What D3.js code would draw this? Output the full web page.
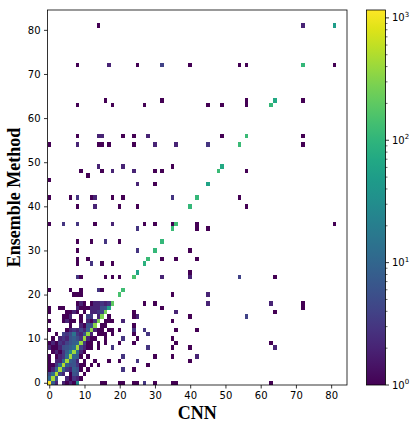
<!DOCTYPE html>
<html>
<head>
<meta charset="utf-8">
<script src="https://cdn.jsdelivr.net/npm/d3@7"></script>
<style>
  body { margin: 0; background: #fff; }
  text { font-family: "DejaVu Sans", sans-serif; }
</style>
</head>
<body>
<svg id="chart" width="417" height="430"></svg>
<script>
// bin edges of both axes (integer bins centred on 0..84)
const binRange = [-0.5, 84.5];
const xTicks = [0, 10, 20, 30, 40, 50, 60, 70, 80];
const yTicks = [0, 10, 20, 30, 40, 50, 60, 70, 80];
const cbarTicks = [1, 10, 100, 1000];
const maxCount = 1160;

// dense corner: denseRows[ens][cnn] for bins 0..18 (0 = empty)
const denseRows = [
  [1160, 8, 2, 0, 2, 1, 2, 1, 30, 0, 0, 0, 0, 0, 0, 1, 1, 0, 0],
  [10, 450, 6, 0, 0, 2, 1, 3, 2, 1, 0, 0, 0, 0, 0, 0, 0, 0, 0],
  [5, 12, 500, 4, 2, 0, 1, 6, 5, 0, 1, 0, 0, 0, 0, 0, 0, 0, 0],
  [1, 2, 10, 450, 8, 3, 2, 8, 6, 1, 0, 1, 0, 0, 0, 0, 0, 0, 0],
  [1, 1, 3, 12, 500, 8, 5, 6, 3, 1, 1, 0, 1, 0, 1, 0, 0, 0, 0],
  [1, 0, 2, 2, 10, 450, 8, 6, 2, 0, 1, 0, 0, 1, 0, 0, 0, 1, 0],
  [1, 0, 1, 2, 3, 12, 420, 10, 8, 1, 0, 1, 0, 0, 0, 0, 0, 0, 0],
  [0, 1, 2, 1, 3, 8, 25, 400, 12, 2, 1, 0, 0, 0, 0, 0, 0, 0, 0],
  [2, 1, 1, 2, 5, 6, 8, 12, 420, 4, 2, 1, 1, 0, 1, 0, 0, 0, 3],
  [1, 2, 1, 3, 2, 4, 6, 8, 10, 380, 3, 1, 1, 0, 1, 0, 1, 0, 0],
  [0, 1, 0, 2, 3, 2, 6, 8, 5, 3, 400, 2, 1, 1, 0, 0, 1, 0, 0],
  [0, 0, 1, 0, 4, 3, 5, 15, 3, 2, 6, 380, 2, 0, 1, 1, 1, 0, 1],
  [1, 0, 0, 0, 0, 1, 2, 3, 2, 4, 2, 8, 350, 2, 1, 1, 0, 1, 1],
  [0, 0, 0, 0, 0, 0, 1, 0, 0, 2, 1, 6, 5, 330, 0, 1, 1, 0, 0],
  [1, 0, 0, 0, 1, 2, 1, 1, 0, 1, 0, 2, 1, 3, 300, 0, 1, 1, 1],
  [0, 0, 0, 0, 1, 1, 2, 0, 0, 1, 0, 4, 3, 0, 2, 280, 0, 1, 0],
  [1, 0, 0, 0, 0, 1, 1, 2, 1, 0, 1, 0, 2, 2, 3, 4, 260, 0, 0],
  [1, 0, 0, 1, 1, 0, 0, 0, 2, 1, 1, 1, 2, 2, 2, 5, 6, 60, 0],
  [0, 0, 0, 0, 0, 0, 0, 0, 1, 2, 1, 0, 1, 2, 2, 3, 2, 3, 200]
];

// remaining cells: [cnn bin, ensemble bin, count]
const sparseCells = [
  [20, 0, 1], [21, 0, 1], [24, 0, 1], [25, 0, 1], [27, 0, 3], [30, 0, 1], [35, 0, 1], [36, 0, 1], [63, 0, 1],
  [21, 3, 3], [24, 3, 1], [28, 4, 1],
  [20, 5, 1], [25, 5, 3], [40, 5, 1],
  [21, 6, 3], [30, 6, 1], [35, 6, 1], [42, 6, 2],
  [28, 8, 3], [35, 8, 1], [40, 8, 1], [64, 8, 2],
  [20, 9, 1], [24, 9, 1], [36, 9, 1], [63, 9, 1],
  [21, 10, 3], [25, 10, 1], [35, 10, 1],
  [24, 11, 1], [28, 11, 3],
  [20, 12, 1], [24, 12, 3], [27, 12, 3], [36, 12, 1], [42, 12, 1],
  [24, 13, 1], [21, 14, 2], [35, 14, 1],
  [24, 15, 1], [25, 15, 2], [40, 15, 1], [56, 15, 4],
  [24, 16, 1], [36, 16, 2], [64, 16, 1],
  [32, 17, 1], [72, 17, 1],
  [27, 18, 1], [30, 18, 1], [45, 18, 2], [63, 18, 2], [72, 18, 1],
  [7, 20, 1], [8, 20, 1], [9, 20, 1], [20, 20, 150], [35, 20, 1], [45, 20, 2],
  [0, 21, 1], [6, 21, 1], [9, 21, 1], [14, 21, 3], [15, 21, 1], [21, 21, 130],
  [8, 24, 3], [9, 24, 1], [16, 24, 1], [18, 24, 1], [20, 24, 1], [24, 24, 150], [32, 24, 2], [40, 24, 2], [54, 24, 4], [64, 24, 1],
  [25, 25, 60], [40, 25, 1],
  [8, 27, 1], [12, 27, 3], [15, 27, 1], [18, 27, 1], [27, 27, 90],
  [8, 28, 1], [11, 28, 1], [28, 28, 120], [32, 28, 1], [36, 28, 1], [42, 28, 1],
  [8, 30, 1], [25, 30, 3], [30, 30, 110], [40, 30, 1],
  [8, 32, 1], [12, 32, 1], [16, 32, 3], [20, 32, 1], [32, 32, 110],
  [25, 35, 3], [35, 35, 120], [42, 35, 1], [45, 35, 1],
  [0, 36, 1], [4, 36, 3], [8, 36, 3], [13, 36, 1], [18, 36, 2], [27, 36, 1], [30, 36, 1], [35, 36, 1], [36, 36, 130], [42, 36, 1], [81, 36, 1],
  [8, 40, 1], [13, 40, 2], [20, 40, 1], [25, 40, 1], [40, 40, 110], [56, 40, 1],
  [0, 42, 1], [6, 42, 1], [8, 42, 3], [12, 42, 1], [13, 42, 2], [18, 42, 1], [21, 42, 1], [35, 42, 3], [42, 42, 110], [54, 42, 1],
  [25, 45, 2], [30, 45, 1], [45, 45, 60],
  [0, 46, 1], [11, 47, 1],
  [9, 48, 1], [15, 48, 1], [18, 48, 2], [24, 48, 2], [30, 48, 1], [32, 48, 1], [48, 48, 120], [56, 48, 1],
  [14, 49, 2], [21, 49, 2], [35, 49, 1], [49, 49, 70],
  [0, 54, 1], [8, 54, 2], [14, 54, 1], [15, 54, 1], [17, 54, 1], [24, 54, 1], [30, 54, 2], [36, 54, 2], [45, 54, 3], [54, 54, 120], [72, 54, 1],
  [8, 56, 1], [14, 56, 2], [15, 56, 2], [21, 56, 1], [24, 56, 1], [28, 56, 2], [49, 56, 1], [56, 56, 120], [72, 56, 1],
  [8, 63, 1], [18, 63, 1], [27, 63, 1], [45, 63, 1], [49, 63, 1], [56, 63, 1], [63, 63, 110],
  [16, 64, 1], [32, 64, 1], [56, 64, 1], [64, 64, 70], [72, 64, 1],
  [8, 72, 1], [17, 72, 2], [25, 72, 1], [32, 72, 4], [40, 72, 1], [54, 72, 1], [56, 72, 1], [72, 72, 110], [81, 72, 1],
  [14, 81, 1], [72, 81, 2], [81, 81, 50]
];

const plot = { left: 47.5, right: 347, top: 10, bottom: 385 };
const cbar = { left: 366.5, right: 385.5, top: 10, bottom: 385 };

const svg = d3.select('#chart');

const x = d3.scaleLinear().domain(binRange).range([plot.left, plot.right]);
const y = d3.scaleLinear().domain(binRange).range([plot.bottom, plot.top]);
const color = d3.scaleSequentialLog(d3.interpolateViridis).domain([1, maxCount]);

// flatten dense block + sparse list
const cells = [];
denseRows.forEach((row, ens) => row.forEach((c, cnn) => {
  if (c > 0) cells.push({ cnn, ens, count: c });
}));
sparseCells.forEach(([cnn, ens, count]) => cells.push({ cnn, ens, count }));

svg.append('g')
  .selectAll('rect')
  .data(cells)
  .join('rect')
  .attr('x', d => x(d.cnn - 0.5))
  .attr('y', d => y(d.ens + 0.5))
  .attr('width', d => x(d.cnn + 0.5) - x(d.cnn - 0.5))
  .attr('height', d => y(d.ens - 0.5) - y(d.ens + 0.5))
  .attr('fill', d => color(d.count))
  .attr('shape-rendering', 'crispEdges');

// axes
const xAxis = svg.append('g')
  .attr('transform', `translate(0,${plot.bottom})`)
  .call(d3.axisBottom(x).tickValues(xTicks).tickSize(3.5).tickPadding(3.5).tickSizeOuter(0));
const yAxis = svg.append('g')
  .attr('transform', `translate(${plot.left},0)`)
  .call(d3.axisLeft(y).tickValues(yTicks).tickSize(3.5).tickPadding(3.5).tickSizeOuter(0));

[xAxis, yAxis].forEach(g => {
  g.select('.domain').remove();
  g.selectAll('line').attr('stroke', '#000').attr('stroke-width', 0.8);
  g.selectAll('text')
    .attr('font-family', '"DejaVu Sans", sans-serif')
    .attr('font-size', 10)
    .attr('fill', '#000');
});

// frame
svg.append('rect')
  .attr('x', plot.left).attr('y', plot.top)
  .attr('width', plot.right - plot.left).attr('height', plot.bottom - plot.top)
  .attr('fill', 'none').attr('stroke', '#000').attr('stroke-width', 0.8);

// axis labels
svg.append('text')
  .attr('x', (plot.left + plot.right) / 2)
  .attr('y', 419)
  .attr('text-anchor', 'middle')
  .style('font-family', '"Liberation Serif", "Times New Roman", serif')
  .style('font-weight', 'bold')
  .style('font-size', '18px')
  .text('CNN');

svg.append('text')
  .attr('transform', `translate(20,${(plot.top + plot.bottom) / 2}) rotate(-90)`)
  .attr('text-anchor', 'middle')
  .style('font-family', '"Liberation Serif", "Times New Roman", serif')
  .style('font-weight', 'bold')
  .style('font-size', '18px')
  .text('Ensemble Method');

// colorbar
const grad = svg.append('defs').append('linearGradient')
  .attr('id', 'viridis')
  .attr('x1', 0).attr('y1', 1).attr('x2', 0).attr('y2', 0);
d3.range(0, 1.0001, 0.05).forEach(t => {
  grad.append('stop').attr('offset', t).attr('stop-color', d3.interpolateViridis(t));
});

svg.append('rect')
  .attr('x', cbar.left).attr('y', cbar.top)
  .attr('width', cbar.right - cbar.left).attr('height', cbar.bottom - cbar.top)
  .attr('fill', 'url(#viridis)')
  .attr('stroke', '#000').attr('stroke-width', 0.8);

const cy = d3.scaleLog().domain([1, maxCount]).range([cbar.bottom, cbar.top]);

// minor ticks
const minor = [];
[1, 10, 100, 1000].forEach(dec => {
  for (let m = 2; m <= 9; m++) if (dec * m <= maxCount) minor.push(dec * m);
});
svg.append('g')
  .selectAll('line')
  .data(minor)
  .join('line')
  .attr('x1', cbar.right).attr('x2', cbar.right + 2)
  .attr('y1', d => cy(d)).attr('y2', d => cy(d))
  .attr('stroke', '#000').attr('stroke-width', 0.6);

const major = svg.append('g')
  .selectAll('g')
  .data(cbarTicks)
  .join('g')
  .attr('transform', d => `translate(${cbar.right},${cy(d)})`);
major.append('line')
  .attr('x2', 3.5)
  .attr('stroke', '#000').attr('stroke-width', 0.8);
const lbl = major.append('text')
  .attr('x', 6.5)
  .attr('dy', '0.35em')
  .attr('font-size', 10)
  .attr('fill', '#000');
lbl.append('tspan').text('10');
lbl.append('tspan')
  .attr('dy', -4.5)
  .attr('font-size', 7)
  .text(d => Math.round(Math.log10(d)));
</script>
</body>
</html>
